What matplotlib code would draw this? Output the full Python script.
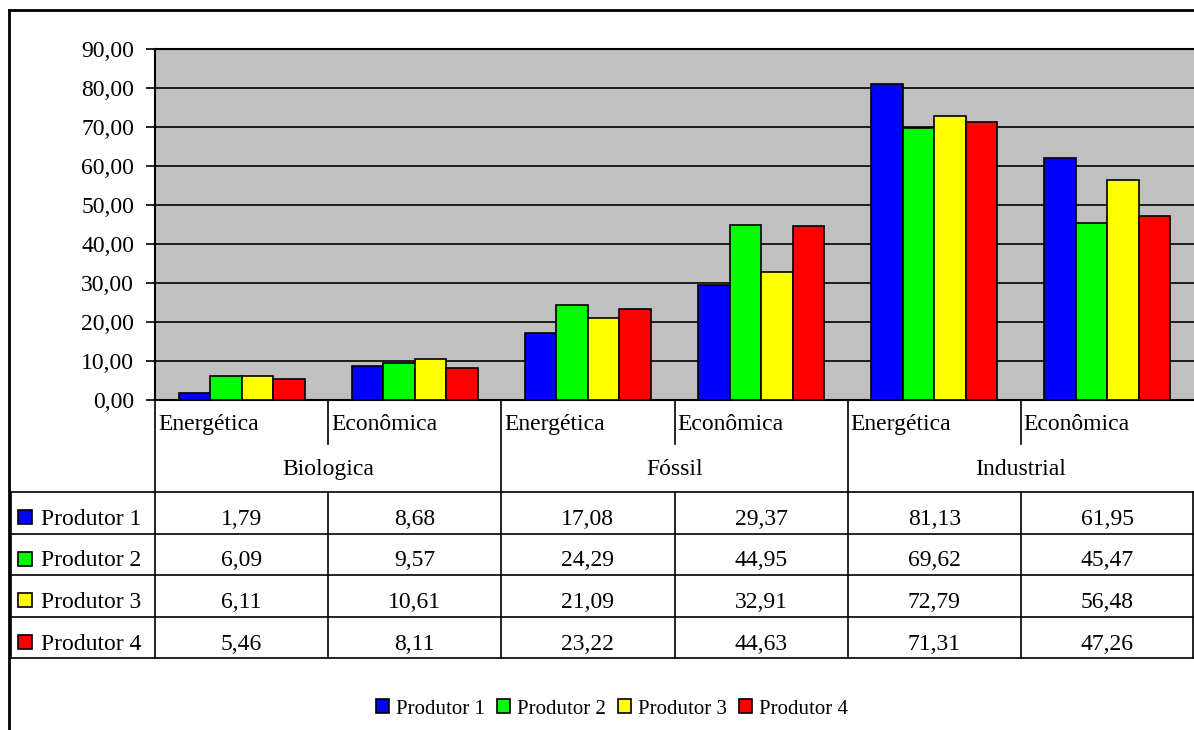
import matplotlib
matplotlib.use("Agg")
import matplotlib.pyplot as plt
from matplotlib.patches import Patch, Rectangle
from matplotlib.lines import Line2D

# ---- data ----
groups = ["Biologica", "Fóssil", "Industrial"]
subcats = ["Energética", "Econômica"]
series_names = ["Produtor 1", "Produtor 2", "Produtor 3", "Produtor 4"]
produtor1 = [1.79, 8.68, 17.08, 29.37, 81.13, 61.95]
produtor2 = [6.09, 9.57, 24.29, 44.95, 69.62, 45.47]
produtor3 = [6.11, 10.61, 21.09, 32.91, 72.79, 56.48]
produtor4 = [5.46, 8.11, 23.22, 44.63, 71.31, 47.26]
series = [produtor1, produtor2, produtor3, produtor4]
colors = ["#0000FF", "#00FF00", "#FFFF00", "#FF0000"]
yticks = [0, 10, 20, 30, 40, 50, 60, 70, 80, 90]

W, H = 1194, 730
FS = 17
plt.rcParams["font.family"] = ["Liberation Serif", "DejaVu Serif"]

fig = plt.figure(figsize=(W / 100, H / 100), dpi=100)

def fx(px):
    return px / W

def fy(py):
    return 1 - py / H

# outer frame (top and left edges visible)
fig.add_artist(Line2D([fx(9), fx(W + 5)], [fy(10), fy(10)], color="black", lw=2, transform=fig.transFigure))
fig.add_artist(Line2D([fx(9), fx(9)], [fy(10), fy(H + 5)], color="black", lw=2, transform=fig.transFigure))

# ---- chart axes ----
plot_l, plot_r, plot_t, plot_b = 155, 1194, 49, 400
ax = fig.add_axes([fx(plot_l), fy(plot_b), fx(plot_r - plot_l), (plot_b - plot_t) / H])
ax.set_facecolor("#C0C0C0")
n = len(produtor1)
xs = list(range(n))
bw = 1 / 5.5
for i, (vals, c) in enumerate(zip(series, colors)):
    ax.bar([x + (i - 1.5) * bw for x in xs], vals, width=bw, color=c,
           edgecolor="black", linewidth=1.2, zorder=3)
ax.set_xlim(-0.5, n - 0.5)
ax.set_ylim(0, 90)
ax.set_yticks(yticks)
ax.set_yticklabels([f"{v:.2f}".replace(".", ",") for v in yticks], fontsize=FS)
ax.set_xticks([])
ax.yaxis.grid(True, color="black", lw=1.2, zorder=1)
ax.tick_params(axis="y", direction="out", length=6.5, width=1.2, pad=8.6, colors="black")
for s in ["left", "top", "bottom"]:
    ax.spines[s].set_color("black")
    ax.spines[s].set_linewidth(1.5)
ax.spines["right"].set_visible(False)

# ---- category labels + data table axes ----
tab_t, tab_b = 400, 658
tax = fig.add_axes([fx(plot_l), fy(tab_b), fx(plot_r - plot_l), (tab_b - tab_t) / H])
tax.set_xlim(-0.5, n - 0.5)
tax.set_ylim(tab_b - tab_t, 0)
tax.axis("off")
colw_px = (plot_r - plot_l) / n
left_x = -0.5 - (plot_l - 11) / colw_px
right_x = n - 0.5 - 1.5 / colw_px

lkw = dict(color="black", lw=1.2, clip_on=False)
sub_h, hdr_h = 44, 92
row_h = (tab_b - tab_t - hdr_h) / len(series)
# group boundaries (full height)
for g in range(len(groups) + 1):
    xb = -0.5 + 2 * g
    if g == len(groups):
        xb = right_x
    tax.plot([xb, xb], [0 if g < len(groups) else hdr_h, tab_b - tab_t], **lkw)
# sub-category separators in header, full in table
for c in range(n):
    if c % 2 == 1:
        xb = c - 0.5
        tax.plot([xb, xb], [0, sub_h], **lkw)
        tax.plot([xb, xb], [hdr_h, tab_b - tab_t], **lkw)
# horizontal table lines
for r in range(len(series) + 1):
    yy = hdr_h + r * row_h
    tax.plot([left_x, right_x], [yy, yy], **lkw)
tax.plot([left_x, left_x], [hdr_h, tab_b - tab_t], **lkw)

# sub-category labels
for c in range(n):
    tax.text(c - 0.5 + 3 / colw_px, 30, subcats[c % 2], ha="left", va="baseline", fontsize=FS)
# group labels
for g, name in enumerate(groups):
    tax.text(2 * g + 0.5, 75, name, ha="center", va="baseline", fontsize=FS)
# table body
for r, (name, vals, col) in enumerate(zip(series_names, series, colors)):
    top = hdr_h + r * row_h
    yb = top + 33
    sq = 14 / colw_px
    tax.add_patch(Rectangle((left_x + 7 / colw_px, top + 18), sq, 14, facecolor=col,
                            edgecolor="black", lw=1.2, clip_on=False))
    tax.text(left_x + 30 / colw_px, yb, name, ha="left", va="baseline", fontsize=FS)
    for c, v in enumerate(vals):
        tax.text(c, yb, f"{v:.2f}".replace(".", ","), ha="center", va="baseline", fontsize=FS)

# ---- legend ----
LFS = 15
handles = [Patch(facecolor=c, edgecolor="black", lw=1.2, label=nm) for c, nm in zip(colors, series_names)]
fig.legend(handles=handles, loc="center", bbox_to_anchor=(fx(612), fy(709)), ncol=4,
           frameon=False, fontsize=LFS, handlelength=0.62, handleheight=0.62,
           handletextpad=0.33, columnspacing=0.58, borderpad=0)

fig.savefig("out.png", dpi=100)
